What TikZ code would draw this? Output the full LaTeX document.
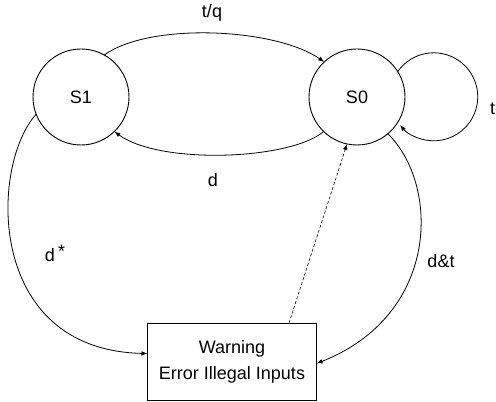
\documentclass[tikz,border=0pt]{standalone}
\usepackage{fontspec}
\setmainfont{Liberation Sans}
\usetikzlibrary{arrows.meta}
\begin{document}
\begin{tikzpicture}[x=1pt,y=1pt,
  every node/.style={font=\fontsize{18}{26}\selectfont, outer sep=0pt},
  state/.style={draw, circle, minimum size=96pt, inner sep=0pt, line width=0.9pt},
  msgbox/.style={draw, rectangle, minimum width=169pt, minimum height=77pt, inner sep=0pt, align=center, line width=0.9pt},
  edge/.style={line width=0.8pt, -{Latex[length=6pt,width=4.5pt]}},
  lbl/.style={anchor=base, inner sep=0pt}]
\useasboundingbox (0,0) rectangle (496,402);
\node[state] (S1) at (81,305) {S1};
\node[state] (S0) at (357,305) {S0};
\node[msgbox] (box) at (232,40.5) {Warning\\Error Illegal Inputs};

% t/q
\draw[edge] (S1.61) .. controls (150,380) and (275,374) .. (S0.133);
\node[lbl] (lq) at (212,384) {t/q};
% d
\draw[edge] (S0.226) .. controls (290,242) and (160,237) .. (S1.314);
\node[lbl] (ld) at (213,215) {d};
% d*
\draw[edge] (S1.201) .. controls (-10,237) and (-15,52) .. ([yshift=8pt]box.west);
\node[lbl, anchor=base west] (lds) at (45,140) {d\,\raisebox{4pt}{*}};
% d&t
\draw[edge] (S0.310) .. controls (440,217) and (440,87) .. ([yshift=-2pt]box.east);
\node[lbl] (ldt) at (441,134) {d\&t};
% dashed
\draw[edge, line width=0.6pt, dash pattern=on 3pt off 2pt] ([xshift=57pt]box.north) -- (S0.258);
% self loop
\draw[edge] (S0.32) arc[start angle=145, end angle=-140, radius=44];
\node[lbl, anchor=base west] (lt) at (490,287) {t};
\end{tikzpicture}
\end{document}
